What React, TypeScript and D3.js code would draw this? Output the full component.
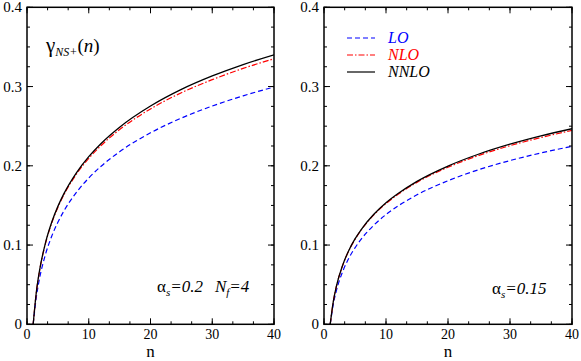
import React from 'react';
import * as d3 from 'd3';

const nValues = [1, 1.5, 2, 3, 4, 5, 6, 8, 10, 12, 15, 20, 25, 30, 35, 40];

const loLeft = [0, 0.0337, 0.0566, 0.0884, 0.111, 0.1287, 0.1433, 0.1664, 0.1846, 0.1995, 0.2178, 0.2416, 0.2602, 0.2754, 0.2883, 0.2994];
const nloLeft = [0, 0.0394, 0.0659, 0.1021, 0.1277, 0.1475, 0.1638, 0.1894, 0.2093, 0.2256, 0.2457, 0.2718, 0.2922, 0.3087, 0.3229, 0.335];
const nnloLeft = [0, 0.0398, 0.0665, 0.1031, 0.1288, 0.1488, 0.1652, 0.1912, 0.2115, 0.2282, 0.2487, 0.2754, 0.2964, 0.3134, 0.3278, 0.3401];

const loRight = [0, 0.0253, 0.0425, 0.0663, 0.0833, 0.0965, 0.1075, 0.1248, 0.1385, 0.1496, 0.1634, 0.1812, 0.1952, 0.2066, 0.2162, 0.2246];
const nloRight = [0, 0.0285, 0.0478, 0.074, 0.0927, 0.1071, 0.119, 0.1378, 0.1524, 0.1643, 0.1791, 0.1982, 0.2132, 0.2254, 0.2357, 0.2446];
const nnloRight = [0, 0.0287, 0.048, 0.0744, 0.0932, 0.1077, 0.1196, 0.1385, 0.1533, 0.1653, 0.1804, 0.1997, 0.2149, 0.2273, 0.2378, 0.2468];

const xMajorTicks = [0, 10, 20, 30, 40];
const xTickLabels = ['0', '10', '20', '30', '40'];
const yMajorTicks = [0, 0.1, 0.2, 0.3, 0.4];
const yTickLabels = ['0', '0.1', '0.2', '0.3', '0.4'];
const legendLabels = ['LO', 'NLO', 'NNLO'];
const seriesColors = ['#0000ff', '#ff0000', '#000000'];
const seriesDash = ['5,3', '6,2,1.5,2', ''];

const W = 581;
const H = 361;
const Y0 = 324.3;
const Y1 = 7.3;
const serif = { fontFamily: 'Liberation Serif' };

type PanelProps = {
  left: number;
  right: number;
  series: number[][];
  id: string;
  children?: React.ReactNode;
};

function Panel({ left, right, series, id, children }: PanelProps) {
  const x = d3.scaleLinear().domain([0, 40]).range([left, right]);
  const y = d3.scaleLinear().domain([0, 0.4]).range([Y0, Y1]);
  const line = d3
    .line<number>()
    .x((_, i) => x(nValues[i]))
    .y((d) => y(d))
    .curve(d3.curveMonotoneX);

  const xMinor = d3.range(0, 40.001, 10 / 3);
  const yMinor = d3.range(0, 0.4001, 0.025);
  const major = 6;
  const minor = 3;

  return (
    <g>
      <defs>
        <clipPath id={id}>
          <rect x={left} y={Y1} width={right - left} height={Y0 - Y1} />
        </clipPath>
      </defs>
      <g clipPath={`url(#${id})`}>
        {series.map((s, k) => (
          <path
            key={k}
            d={line(s) || ''}
            fill="none"
            stroke={seriesColors[k]}
            strokeWidth={k === 2 ? 1.3 : 1.2}
            strokeDasharray={seriesDash[k] || undefined}
          />
        ))}
      </g>
      {xMinor.map((t, i) => (
        <g key={'xm' + i}>
          <line x1={x(t)} x2={x(t)} y1={Y0} y2={Y0 - minor} stroke="#000" strokeWidth={1} />
          <line x1={x(t)} x2={x(t)} y1={Y1} y2={Y1 + minor} stroke="#000" strokeWidth={1} />
        </g>
      ))}
      {yMinor.map((t, i) => (
        <g key={'ym' + i}>
          <line x1={left} x2={left + minor} y1={y(t)} y2={y(t)} stroke="#000" strokeWidth={1} />
          <line x1={right} x2={right - minor} y1={y(t)} y2={y(t)} stroke="#000" strokeWidth={1} />
        </g>
      ))}
      {xMajorTicks.map((t, i) => (
        <g key={'xM' + i}>
          <line x1={x(t)} x2={x(t)} y1={Y0} y2={Y0 - major} stroke="#000" strokeWidth={1} />
          <line x1={x(t)} x2={x(t)} y1={Y1} y2={Y1 + major} stroke="#000" strokeWidth={1} />
          <text x={x(t)} y={339} textAnchor="middle" style={serif} fontSize={14}>
            {xTickLabels[i]}
          </text>
        </g>
      ))}
      {yMajorTicks.map((t, i) => (
        <g key={'yM' + i}>
          <line x1={left} x2={left + major} y1={y(t)} y2={y(t)} stroke="#000" strokeWidth={1} />
          <line x1={right} x2={right - major} y1={y(t)} y2={y(t)} stroke="#000" strokeWidth={1} />
          <text x={left - 5} y={y(t) + 5} textAnchor="end" style={serif} fontSize={15}>
            {yTickLabels[i]}
          </text>
        </g>
      ))}
      <rect x={left} y={Y1} width={right - left} height={Y0 - Y1} fill="none" stroke="#000" strokeWidth={1.5} />
      <text x={(left + right) / 2} y={357} textAnchor="middle" style={serif} fontSize={17}>
        n
      </text>
      {children}
    </g>
  );
}

export default function App() {
  const legendY = [38, 55, 72];
  return (
    <svg width={W} height={H} style={{ position: 'absolute', left: 0, top: 0, background: '#fff' }}>
      <rect x={0} y={0} width={W} height={H} fill="#fff" />
      <Panel left={27} right={274} series={[loLeft, nloLeft, nnloLeft]} id="clipL">
        <text x={46} y={52} style={serif} fontSize={21}>
          γ
          <tspan fontSize={12} fontStyle="italic" dy={4}>NS+</tspan>
          <tspan fontSize={19} dy={-4}>(</tspan>
          <tspan fontSize={19} fontStyle="italic">n</tspan>
          <tspan fontSize={19}>)</tspan>
        </text>
        <text x={157} y={292} style={serif} fontSize={17}>
          α
          <tspan fontSize={11} fontStyle="italic" dy={4}>s</tspan>
          <tspan fontStyle="italic" dy={-4}>=0.2</tspan>
          <tspan fontStyle="italic" dx={12}>N</tspan>
          <tspan fontSize={11} fontStyle="italic" dy={4}>f</tspan>
          <tspan fontStyle="italic" dy={-4}>=4</tspan>
        </text>
      </Panel>
      <Panel left={324} right={572} series={[loRight, nloRight, nnloRight]} id="clipR">
        {legendLabels.map((lab, k) => (
          <g key={lab}>
            <line
              x1={347}
              x2={375}
              y1={legendY[k]}
              y2={legendY[k]}
              stroke={seriesColors[k]}
              strokeWidth={1.2}
              strokeDasharray={seriesDash[k] || undefined}
            />
            <text x={388} y={legendY[k] + 5} style={serif} fontSize={16} fontStyle="italic" fill={seriesColors[k]}>
              {lab}
            </text>
          </g>
        ))}
        <text x={492} y={294} style={serif} fontSize={17}>
          α
          <tspan fontSize={11} fontStyle="italic" dy={4}>s</tspan>
          <tspan fontStyle="italic" dy={-4}>=0.15</tspan>
        </text>
      </Panel>
    </svg>
  );
}
